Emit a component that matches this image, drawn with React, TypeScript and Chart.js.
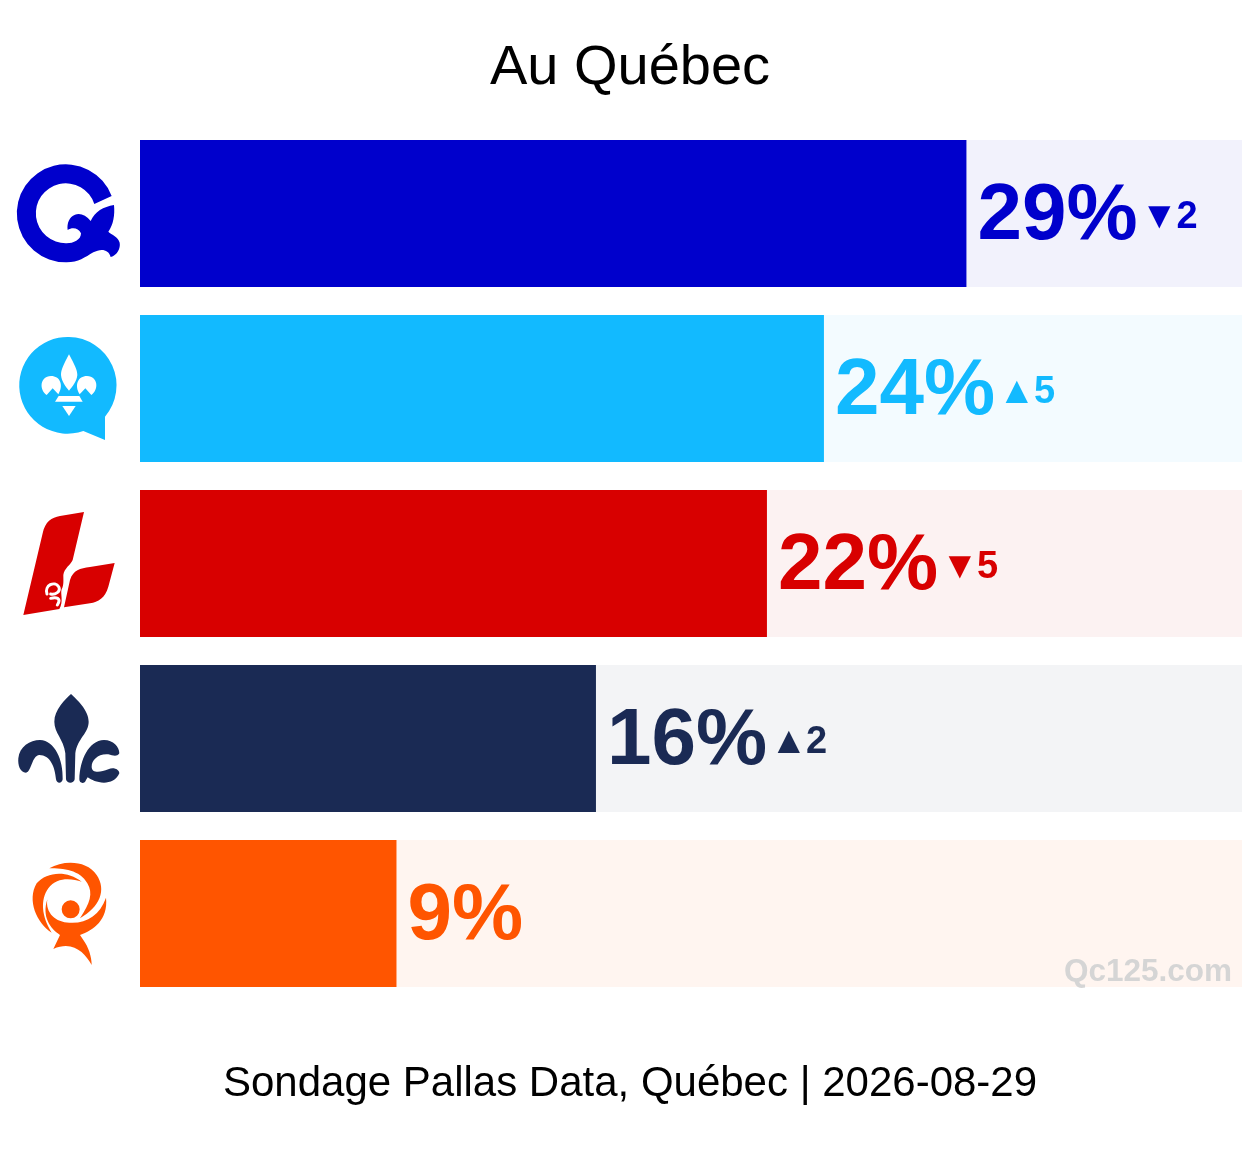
import React, { useEffect, useRef } from 'react';
import { Chart, ChartConfiguration, Plugin, registerables } from 'chart.js';

Chart.register(...registerables);

const parties = ['PQ', 'CAQ', 'PLQ', 'PCQ', 'QS'];
const support = [29, 24, 22, 16, 9];
const changes = [-2, 5, -5, 2, null];
const axisMax = 38.67;
const trackValues = [axisMax, axisMax, axisMax, axisMax, axisMax];

const title = 'Au Québec';
const footer = 'Sondage Pallas Data, Québec | 2026-08-29';
const watermark = 'Qc125.com';

const barColors = ['#0000cc', '#12baff', '#d80000', '#1a2a54', '#ff5500'];
const trackColors = ['#f2f2fc', '#f3fbff', '#fcf2f2', '#f3f4f6', '#fff5f0'];

const FONT = '"Liberation Sans", Arial, sans-serif';

type Logo = { dy: number; draw: (ctx: CanvasRenderingContext2D, color: string) => void };

const fill = (ctx: CanvasRenderingContext2D, d: string, color: string) => {
    ctx.fillStyle = color;
    ctx.fill(new Path2D(d));
};

const logos: Logo[] = [
    {
        dy: -73.5,
        draw: (ctx, c) => {
            fill(ctx, 'M335 168 A147 147 0 1 0 200 367 C235 367 255 352 280 337 C300 326 325 325 332 351 C352 345 362 325 359 308 C355 290 335 285 325 275 C340 255 345 225 342 195 C310 200 285 215 272 243 C258 225 240 218 225 224 C208 230 200 250 203 270 C215 262 235 262 243 280 C243 300 220 310 200 310 A90 90 0 1 1 283 192 Z', c);
        },
    },
    {
        dy: -248.5,
        draw: (ctx, c) => {
            fill(ctx, 'M207 591 A145 145 0 0 1 315 830 L315 900 L250 873 A145 145 0 1 1 207 591 Z', c);
            fill(ctx, 'M207 643 C190 675 183 690 183 705 C185 725 197 740 207 752 C217 740 230 725 232 705 C232 690 224 675 207 643 Z', '#fff');
            fill(ctx, 'M140 765 C118 750 118 710 153 708 C180 708 192 735 175 763 L158 745 Z', '#fff');
            fill(ctx, 'M274 765 C296 750 296 710 261 708 C234 708 222 735 239 763 L256 745 Z', '#fff');
            fill(ctx, 'M176 768 L238 768 L248 785 L165 785 Z', '#fff');
            fill(ctx, 'M187 798 L227 798 L207 828 Z', '#fff');
        },
    },
    {
        dy: -73.5,
        draw: (ctx, c) => {
            fill(ctx, 'M252 66 L218 210 C212 225 192 235 190 255 C190 270 192 285 185 298 C180 310 192 335 178 357 L70 375 L128 130 C135 95 155 82 180 78 Z', c);
            fill(ctx, 'M344 219 L325 290 C315 325 295 335 270 340 L192 352 L210 270 C220 240 240 235 270 231 Z', c);
            ctx.strokeStyle = '#fff';
            ctx.lineWidth = 9;
            ctx.lineCap = 'round';
            ctx.stroke(new Path2D('M141 312 C132 285 165 272 176 290 C184 305 165 315 152 312'));
            ctx.stroke(new Path2D('M152 325 C170 320 185 325 172 345'));
        },
    },
    {
        dy: -248.5,
        draw: (ctx, c) => {
            fill(ctx, 'M213 612 C195 628 163 660 163 695 C163 730 190 745 196 790 L198 868 C200 882 222 882 224 868 L226 790 C232 745 266 730 266 695 C266 660 230 628 213 612 Z', c);
            fill(ctx, 'M78 848 C60 848 53 825 55 805 C58 770 90 750 120 750 C165 752 190 810 188 868 C186 882 170 882 168 868 C165 830 150 795 118 795 C95 797 95 845 78 848 Z', c);
            fill(ctx, 'M238 868 C240 810 265 752 312 750 C340 750 358 770 358 790 C350 802 338 796 325 793 C295 790 275 810 275 830 C275 850 300 848 325 838 C340 830 358 838 358 850 C350 870 330 878 312 878 C290 878 275 870 263 862 L258 870 C255 882 238 882 238 868 Z', c);
        },
    },
    {
        dy: -73.5,
        draw: (ctx, c) => {
            fill(ctx, 'M148 85 C190 60 260 60 290 105 C320 150 300 200 240 235 C270 190 280 160 262 130 C240 90 190 85 148 85 Z', c);
            fill(ctx, 'M245 125 C200 90 140 95 110 130 C80 180 110 250 155 278 C125 230 120 180 145 145 C170 110 215 115 245 125 Z', c);
            fill(ctx, 'M239 208 A27 27 0 1 1 185 208 A27 27 0 1 1 239 208 Z', c);
            fill(ctx, 'M142 178 C135 220 170 250 212 248 C260 250 300 225 318 173 C325 240 280 270 240 285 L250 300 C265 320 275 350 275 375 C255 340 220 300 160 327 L180 285 C150 265 125 230 142 178 Z', c);
        },
    },
];

const decorPlugin: Plugin<'bar'> = {
    id: 'decor',
    afterDatasetsDraw(chart) {
        const { ctx } = chart;
        const bars = chart.getDatasetMeta(0).data;

        ctx.save();
        ctx.textBaseline = 'alphabetic';

        ctx.fillStyle = '#000';
        ctx.textAlign = 'center';
        ctx.font = `56px ${FONT}`;
        ctx.fillText(title, 630, 84);
        ctx.font = `42px ${FONT}`;
        ctx.fillText(footer, 630, 1096);

        ctx.textAlign = 'right';
        ctx.fillStyle = '#d5d5d5';
        ctx.font = `bold 31.5px ${FONT}`;
        ctx.fillText(watermark, 1232, 981);

        ctx.textAlign = 'left';
        bars.forEach((bar, i) => {
            const color = barColors[i];
            ctx.fillStyle = color;
            const label = `${support[i]}%`;
            ctx.font = `bold 80px ${FONT}`;
            ctx.fillText(label, bar.x + 11, bar.y + 25);
            const end = bar.x + 11 + ctx.measureText(label).width;

            const change = changes[i];
            if (change !== null) {
                ctx.font = `bold 38px ${FONT}`;
                ctx.fillText(change < 0 ? '▼' : '▲', end + 3, bar.y + 14);
                ctx.fillText(String(Math.abs(change)), end + 39, bar.y + 14);
            }

            ctx.save();
            ctx.translate(0, bar.y);
            ctx.translate(0, logos[i].dy);
            ctx.scale(1 / 3, 1 / 3);
            logos[i].draw(ctx, color);
            ctx.restore();
        });
        ctx.restore();
    },
};

const App: React.FC = () => {
    const chartRef = useRef<HTMLCanvasElement>(null);

    useEffect(() => {
        if (!chartRef.current) return;

        const config: ChartConfiguration<'bar'> = {
            type: 'bar',
            data: {
                labels: parties,
                datasets: [
                    {
                        label: 'Intentions de vote',
                        data: support,
                        backgroundColor: barColors,
                        grouped: false,
                        order: 1,
                        barPercentage: 0.84,
                        categoryPercentage: 1,
                    },
                    {
                        label: 'Fond',
                        data: trackValues,
                        backgroundColor: trackColors,
                        grouped: false,
                        order: 2,
                        barPercentage: 0.84,
                        categoryPercentage: 1,
                    },
                ],
            },
            options: {
                indexAxis: 'y',
                responsive: false,
                animation: false,
                devicePixelRatio: 1,
                layout: { padding: { left: 140, right: 18, top: 126, bottom: 154 } },
                scales: {
                    x: { display: false, min: 0, max: axisMax },
                    y: { display: false },
                },
                plugins: {
                    legend: { display: false },
                    tooltip: { enabled: false },
                },
            },
            plugins: [decorPlugin],
        };

        const chart = new Chart(chartRef.current, config);
        return () => chart.destroy();
    }, []);

    return (
        <div style={{ position: 'absolute', left: 0, top: 0, width: 1260, height: 1155, background: '#fff' }}>
            <canvas ref={chartRef} width={1260} height={1155} style={{ display: 'block' }} />
        </div>
    );
};

export default App;
